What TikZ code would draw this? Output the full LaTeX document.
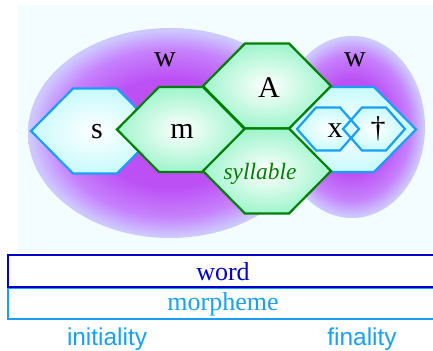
\documentclass[tikz,border=0pt]{standalone}
\usepackage{fontspec}
\setmainfont{Liberation Serif}
\setsansfont{Liberation Sans}
\usepackage{tikz}

\definecolor{cellgreen}{RGB}{0,128,0}
\definecolor{mint}{RGB}{160,245,205}
\definecolor{cellblue}{RGB}{25,160,245}
\definecolor{paleblue}{RGB}{200,250,252}
\definecolor{wordblue}{RGB}{0,0,200}
\definecolor{blobin}{RGB}{188,80,245}
\definecolor{blobmid}{RGB}{198,130,252}
\definecolor{blobout}{RGB}{205,200,255}
\definecolor{backcyan}{RGB}{243,253,255}

\pgfdeclareradialshading{blob}{\pgfpoint{0bp}{0bp}}{color(0bp)=(blobin); color(13bp)=(blobin); color(20bp)=(blobmid); color(24.5bp)=(blobout); color(25bp)=(blobout); color(50bp)=(blobout)}

% style, centre x, centre y, half width, half top edge, half height
\newcommand{\hexcell}[6]{%
	\path[#1] (#2-#4,#3) -- (#2-#5,#3-#6) -- (#2+#5,#3-#6) -- (#2+#4,#3)
		-- (#2+#5,#3+#6) -- (#2-#5,#3+#6) -- cycle;}

\begin{document}
\begin{tikzpicture}[x=0.5pt,y=-0.5pt,
	greencell/.style={draw=cellgreen, line width=1.1pt, inner color=white, outer color=mint},
	bluecell/.style={draw=cellblue, line width=1.1pt, inner color=white, outer color=paleblue},
	letter/.style={font=\fontsize{15}{17}\selectfont},
	levelbox/.style={line width=1.3pt},
	edgelabel/.style={text=cellblue, font=\sffamily\fontsize{12.2}{14}\selectfont}]
	\useasboundingbox (0,0) rectangle (433,351);
	\fill[backcyan] (18,5) rectangle (433,252);
	
	% the two word blobs
	\shade[shading=blob] (170,133) ellipse [x radius=142, y radius=105];
	\shade[shading=blob] (352,127) ellipse [x radius=73, y radius=91];
	
	% cells
	\hexcell{bluecell}{95}{131}{64}{22}{42.5}
	\hexcell{bluecell}{352}{129.5}{64}{22}{42.5}
	\hexcell{greencell}{181}{129.5}{64}{22}{42.5}
	\hexcell{greencell}{267}{86}{64}{22}{42.5}
	\hexcell{greencell}{267}{171}{64}{22}{42.5}
	
	\hexcell{bluecell, draw=none}{328}{129}{31}{12}{21.5}
	\hexcell{bluecell, draw=none}{374}{129}{31}{12}{21.5}
	\hexcell{draw=cellblue, line width=1.1pt}{328}{129}{31}{12}{21.5}
	\hexcell{draw=cellblue, line width=1.1pt}{374}{129}{31}{12}{21.5}
	
	\node[letter] (w1) at (165,60) {w};
	\node[letter] (w2) at (355,60) {w};
	\node[letter] (s) at (97,132) {s};
	\node[letter] (m) at (182,131) {m};
	\node[letter] (A) at (269,88) {A};
	\node[text=cellgreen, font=\itshape\fontsize{11.7}{14}\selectfont] (syl) at (260,174) {syllable};
	\node[letter] (x) at (335,131) {x};
	\node[letter] (dag) at (378,129) {\dag};
	
	% levels
	\draw[levelbox, draw=cellblue] (8,288) rectangle (440,319);
	\draw[levelbox, draw=wordblue] (8,255) rectangle (440,287);
	\node[text=wordblue, font=\fontsize{13}{15}\selectfont] (word) at (223,272) {word};
	\node[text=cellblue, font=\fontsize{13}{15}\selectfont] (morph) at (223,304) {morpheme};
	
	\node[edgelabel] (ini) at (107,339) {initiality};
	\node[edgelabel] (fin) at (362,339) {finality};
\end{tikzpicture}
\end{document}
